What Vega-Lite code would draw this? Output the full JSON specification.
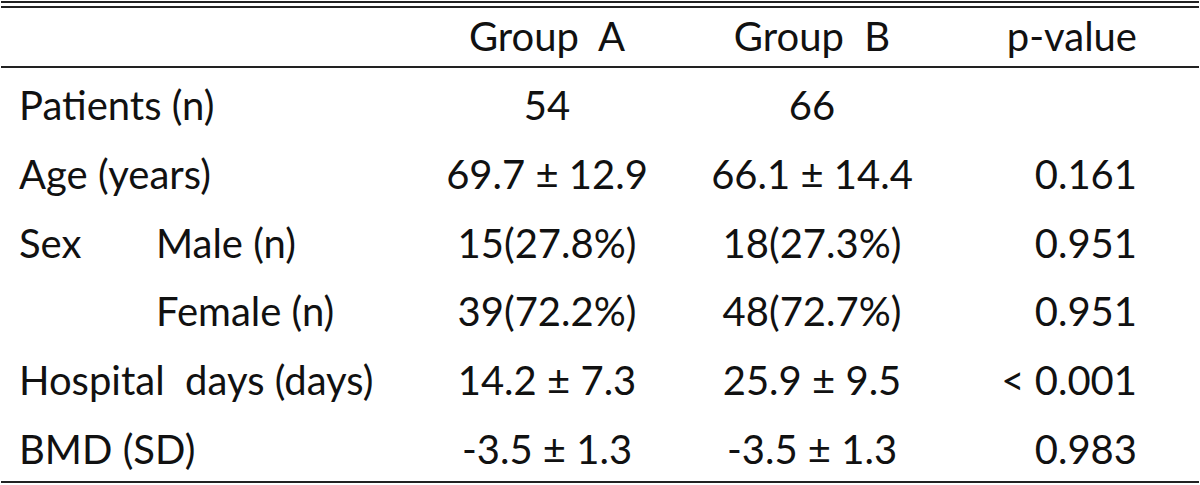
{
  "$schema": "https://vega.github.io/schema/vega-lite/v6.json",
  "width": 1200,
  "height": 485,
  "autosize": {"type": "fit", "contains": "padding"},
  "padding": 0,
  "background": "white",
  "view": {"stroke": null},
  "datasets": {
    "cells": [
      {"row": 0, "col": 2, "text": "Group\u00a0\u00a0A"},
      {"row": 0, "col": 3, "text": "Group\u00a0\u00a0B"},
      {"row": 0, "col": 4, "text": "p-value"},
      {"row": 1, "col": 0, "text": "Patients (n)"},
      {"row": 1, "col": 2, "text": "54"},
      {"row": 1, "col": 3, "text": "66"},
      {"row": 2, "col": 0, "text": "Age (years)"},
      {"row": 2, "col": 2, "text": "69.7 ± 12.9"},
      {"row": 2, "col": 3, "text": "66.1 ± 14.4"},
      {"row": 2, "col": 4, "text": "0.161"},
      {"row": 3, "col": 0, "text": "Sex"},
      {"row": 3, "col": 1, "text": "Male (n)"},
      {"row": 3, "col": 2, "text": "15(27.8%)"},
      {"row": 3, "col": 3, "text": "18(27.3%)"},
      {"row": 3, "col": 4, "text": "0.951"},
      {"row": 4, "col": 1, "text": "Female (n)"},
      {"row": 4, "col": 2, "text": "39(72.2%)"},
      {"row": 4, "col": 3, "text": "48(72.7%)"},
      {"row": 4, "col": 4, "text": "0.951"},
      {"row": 5, "col": 0, "text": "Hospital\u00a0\u00a0days (days)"},
      {"row": 5, "col": 2, "text": "14.2 ± 7.3"},
      {"row": 5, "col": 3, "text": "25.9 ± 9.5"},
      {"row": 5, "col": 4, "text": "< 0.001"},
      {"row": 6, "col": 0, "text": "BMD (SD)"},
      {"row": 6, "col": 2, "text": "-3.5 ± 1.3"},
      {"row": 6, "col": 3, "text": "-3.5 ± 1.3"},
      {"row": 6, "col": 4, "text": "0.983"}
    ],
    "rules": [
      {"pos": -0.541},
      {"pos": -0.468},
      {"pos": 0.404},
      {"pos": 6.436}
    ]
  },
  "encoding": {
    "y": {"field": "row", "type": "quantitative", "scale": {"domain": [-0.57, 6.48], "reverse": true, "nice": false, "zero": false}, "axis": null},
    "x": {"field": "col", "type": "quantitative", "scale": {"domain": [0, 1, 2, 3, 4], "range": [18, 155, 546, 811, 1136], "nice": false, "zero": false}, "axis": null},
    "text": {"field": "text", "type": "nominal"}
  },
  "layer": [
    {
      "data": {"name": "rules"},
      "mark": {"type": "rule", "stroke": "#222", "strokeWidth": 2},
      "encoding": {
        "y": {"field": "pos", "type": "quantitative"},
        "x": null,
        "text": null
      }
    },
    {
      "data": {"name": "cells"},
      "transform": [{"filter": "datum.col <= 1"}],
      "mark": {"type": "text", "align": "left", "baseline": "middle", "font": "Lato", "fontSize": 40, "color": "#111"}
    },
    {
      "data": {"name": "cells"},
      "transform": [{"filter": "datum.col == 2 || datum.col == 3"}],
      "mark": {"type": "text", "align": "center", "baseline": "middle", "font": "Lato", "fontSize": 40, "color": "#111"}
    },
    {
      "data": {"name": "cells"},
      "transform": [{"filter": "datum.col == 4"}],
      "mark": {"type": "text", "align": "right", "baseline": "middle", "font": "Lato", "fontSize": 40, "color": "#111"}
    }
  ]
}
